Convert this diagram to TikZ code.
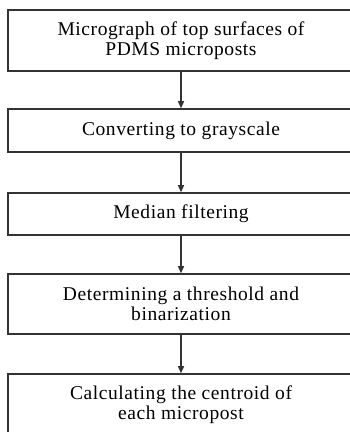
\documentclass[tikz,border=0pt]{standalone}
\usepackage{fontspec}
\setmainfont{Liberation Serif}[LetterSpace=3]
\usetikzlibrary{arrows.meta}
\newcommand\lftshift{\hspace*{-6pt}}
\begin{document}
\begin{tikzpicture}[x=1pt,y=1pt,
  stepbox/.style={draw=black!80,line width=1.5pt,minimum width=352pt,align=center,
    font=\fontsize{19.5}{20}\selectfont,inner sep=0pt},
  flow/.style={draw=black!80,line width=1.3pt,-{Triangle[length=7pt,width=6pt]}}]
\useasboundingbox (0,0) rectangle (350,432);
\node[stepbox,minimum height=61pt] (b1) at (184,391.5) {\lftshift Micrograph of top surfaces of\\\lftshift PDMS microposts};
\node[stepbox,minimum height=43pt] (b2) at (184,301.5) {\lftshift Converting to grayscale};
\node[stepbox,minimum height=42pt] (b3) at (184,218) {\lftshift Median filtering};
\node[stepbox,minimum height=60pt] (b4) at (184,128) {\lftshift Determining a threshold and\\\lftshift binarization};
\node[stepbox,minimum height=61pt] (b5) at (184,27.5) {\lftshift Calculating the centroid of\\\lftshift each micropost};
\draw[flow] ([xshift=-3pt]b1.south) -- ([xshift=-3pt]b2.north);
\draw[flow] ([xshift=-3pt]b2.south) -- ([xshift=-3pt]b3.north);
\draw[flow] ([xshift=-3pt]b3.south) -- ([xshift=-3pt]b4.north);
\draw[flow] ([xshift=-3pt]b4.south) -- ([xshift=-3pt]b5.north);
\end{tikzpicture}
\end{document}
